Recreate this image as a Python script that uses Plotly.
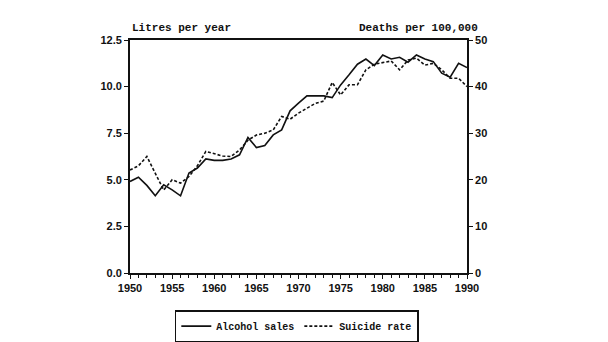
import plotly.graph_objects as go

# Annual series, 1950-1990
years = list(range(1950, 1991))
alcohol_litres = [4.91, 5.14, 4.70, 4.14, 4.73, 4.46, 4.14, 5.36, 5.63, 6.12,
                  6.04, 6.04, 6.12, 6.34, 7.27, 6.73, 6.84, 7.41, 7.68, 8.70,
                  9.11, 9.50, 9.50, 9.50, 9.41, 10.09, 10.63, 11.20, 11.48, 11.13,
                  11.70, 11.48, 11.57, 11.31, 11.70, 11.48, 11.34, 10.72, 10.50, 11.25,
                  11.02]
suicide_rate = [22.1, 23.0, 25.0, 21.4, 17.8, 20.0, 19.3, 20.7, 23.0, 26.1,
                25.6, 25.1, 25.0, 26.4, 28.5, 29.6, 30.0, 30.7, 33.6, 33.0,
                34.3, 35.4, 36.4, 36.9, 40.9, 38.2, 40.4, 40.4, 43.6, 44.8,
                45.2, 45.5, 43.6, 45.7, 46.1, 44.6, 45.0, 43.6, 41.8, 41.8,
                40.0]

left_ticks = [0, 2.5, 5, 7.5, 10, 12.5]
right_ticks = [0, 10, 20, 30, 40, 50]
x_ticks = list(range(1950, 1991, 5))

tick_font = dict(family="Liberation Sans", size=11, color="#111", weight="bold")
mono_font = dict(family="Liberation Mono", size=11, color="#111", weight="bold")
legend_font = dict(family="Liberation Mono", size=10, color="#111", weight="bold")

fig = go.Figure()
fig.add_trace(go.Scatter(x=years, y=alcohol_litres, mode="lines", name="Alcohol sales",
                         line=dict(color="#111", width=1.6), yaxis="y"))
fig.add_trace(go.Scatter(x=years, y=suicide_rate, mode="lines", name="Suicide rate",
                         line=dict(color="#111", width=1.6, dash="3px,2px"), yaxis="y2"))

fig.update_layout(
    width=608, height=342,
    margin=dict(l=130, r=141, t=40, b=69, autoexpand=False),
    paper_bgcolor="white", plot_bgcolor="white",
    showlegend=True,
    legend=dict(orientation="h", x=0.495, xanchor="center", y=-0.228, yanchor="middle",
                bordercolor="#111", borderwidth=1.5, font=legend_font,
                itemwidth=30, tracegroupgap=0, bgcolor="white"),
    xaxis=dict(range=[1950, 1990], tickvals=x_ticks, ticks="outside", ticklen=4,
               tickwidth=1.2, tickcolor="#111", showgrid=False, zeroline=False,
               showline=True, linecolor="#111", linewidth=1.8, mirror=True,
               tickfont=tick_font,
               minor=dict(dtick=1, ticks="outside", ticklen=3, tickcolor="#111",
                          showgrid=False)),
    yaxis=dict(range=[0, 12.5], tickvals=left_ticks, tickformat=".1f", ticks="outside",
               ticklen=4, tickwidth=1.2, tickcolor="#111", showgrid=False, zeroline=False,
               showline=True, linecolor="#111", linewidth=1.8, tickfont=tick_font),
    yaxis2=dict(range=[0, 50], tickvals=right_ticks, overlaying="y", side="right",
                ticks="outside", ticklen=4, tickwidth=1.2, tickcolor="#111",
                showgrid=False, zeroline=False, showline=True, linecolor="#111",
                linewidth=1.8, tickfont=tick_font),
    annotations=[
        dict(text="Litres per year", xref="paper", yref="paper", x=0.0, y=1.0,
             xanchor="left", yanchor="bottom", yshift=4, showarrow=False, font=mono_font),
        dict(text="Deaths per 100,000", xref="paper", yref="paper", x=1.04, y=1.0,
             xanchor="right", yanchor="bottom", yshift=4, showarrow=False, font=mono_font),
    ],
)

fig.write_html("out.html")
